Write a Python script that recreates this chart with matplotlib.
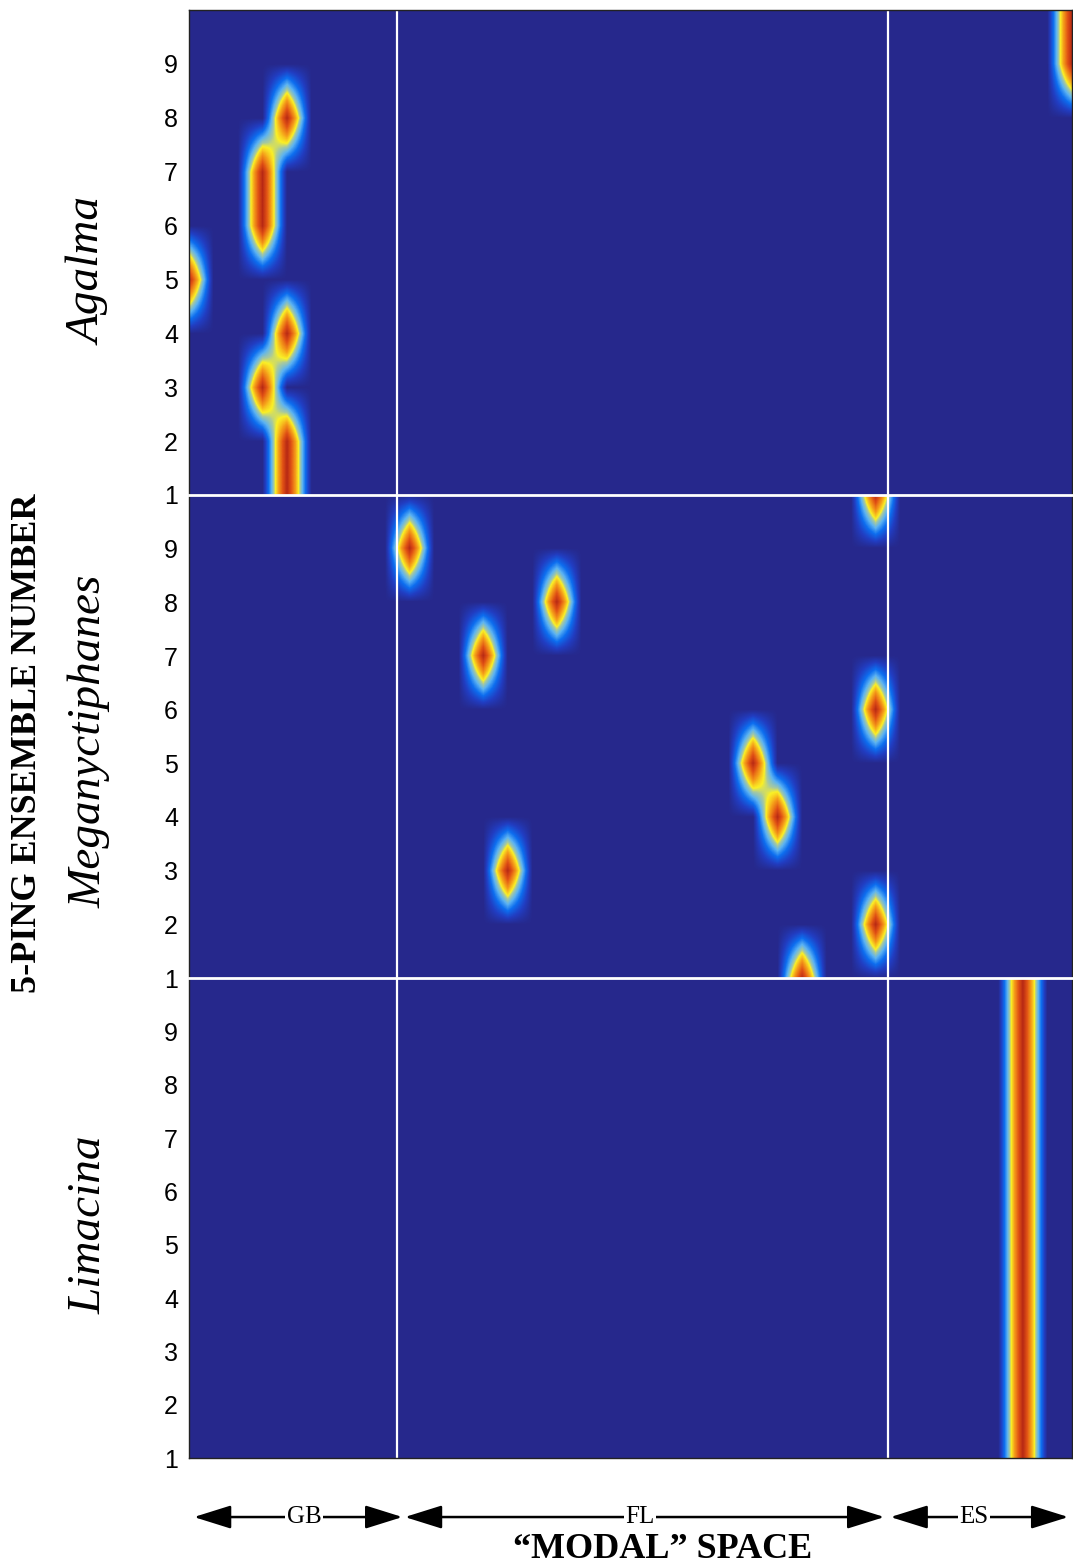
import numpy as np
import matplotlib
matplotlib.use('Agg')
import matplotlib.pyplot as plt
from matplotlib.colors import LinearSegmentedColormap
from matplotlib.patches import ArrowStyle

plt.rcParams['font.family'] = ['Liberation Sans', 'DejaVu Sans']

# mode index (0..36) of the peak for each 5-ping ensemble 1..10
pings = np.arange(1, 11)
n_modes = 37
agalma_mode = [4, 4, 3, 4, 0, 3, 3, 4, 36, 36]
megan_mode = [25, 28, 13, 24, 23, 28, 12, 15, 9, 28]
limacina_mode = [34, 34, 34, 34, 34, 34, 34, 34, 34, 34]
species = ['Agalma', 'Meganyctiphanes', 'Limacina']
modes = [agalma_mode, megan_mode, limacina_mode]

# regions of modal space
region_names = ['GB', 'FL', 'ES']
region_edges = [8.5, 28.5]

# arrow spans and label spots under the plot (in mode units)
arrow_spans = [(0.2, 8.7), (8.8, 28.35), (28.6, 35.85)]
label_x = [4.7, 18.4, 32.0]
species_y = [0.46, 0.49, 0.485]

serif = ['Liberation Serif', 'DejaVu Serif']

cmap = LinearSegmentedColormap.from_list('sonar', [
    (0.00, (0.15, 0.16, 0.55)),
    (0.12, (0.13, 0.24, 0.76)),
    (0.25, (0.05, 0.43, 0.94)),
    (0.37, (0.36, 0.70, 0.95)),
    (0.47, (0.66, 0.79, 0.62)),
    (0.53, (0.98, 0.94, 0.15)),
    (0.66, (0.96, 0.62, 0.10)),
    (0.83, (0.88, 0.32, 0.08)),
    (1.00, (0.72, 0.16, 0.08)),
])

H, Wpx = 1566, 1073
left = 189 / Wpx
width = (1072 - 189) / Wpx
tops = [10, 495, 978]
bots = [495, 978, 1458]

fig = plt.figure(figsize=(Wpx / 100, H / 100), dpi=100)
axes = []
for i in range(3):
    ax = fig.add_axes([left, 1 - bots[i] / H, width, (bots[i] - tops[i]) / H])
    grid = np.zeros((len(pings), n_modes))
    for r, m in enumerate(modes[i]):
        grid[r, m] = 1.0
    ax.imshow(grid, cmap=cmap, vmin=0, vmax=1, origin='lower', aspect='auto',
              interpolation='bilinear', interpolation_stage='data',
              extent=[-0.5, n_modes - 0.5, 0.5, 10.5])
    ax.set_xlim(0, 36)
    ax.set_ylim(1, 10)
    for e in region_edges:
        ax.axvline(e, color='white', lw=1.6)
    ax.set_xticks([])
    ax.set_yticks(range(1, 10))
    ax.tick_params(axis='y', length=0, pad=8, labelsize=18)
    for s in ax.spines.values():
        s.set_linewidth(1.0)
        s.set_color('#222222')
    if i > 0:
        ax.spines['top'].set_color('white')
        ax.spines['top'].set_linewidth(2)
        ax.spines['top'].set_zorder(5)
    ax.text(-0.113, species_y[i], species[i], transform=ax.transAxes,
            rotation=90, ha='center', va='center', fontsize=34,
            style='italic', family=serif)
    axes.append(ax)

fig.text(28 / Wpx, 1 - 743 / H, '5-PING ENSEMBLE NUMBER', rotation=90,
         ha='center', va='center', fontsize=26, fontweight='bold',
         family=serif)

ax3 = axes[2]
tr = ax3.get_xaxis_transform()
style = ArrowStyle('<|-|>', head_length=2.3, head_width=0.72)
for name, (a, b), lx in zip(region_names, arrow_spans, label_x):
    ax3.annotate('', xy=(a, -0.123), xytext=(b, -0.123),
                 xycoords=tr, textcoords=tr, annotation_clip=False,
                 arrowprops=dict(arrowstyle=style, mutation_scale=10,
                                 lw=1.8, color='black', shrinkA=0, shrinkB=0))
    ax3.text(lx, -0.123, name, transform=tr, ha='center', va='center',
             fontsize=18, family=serif,
             bbox=dict(facecolor='white', edgecolor='none', pad=1))

ax3.text(19.3, -0.19, '\u201cMODAL\u201d SPACE', transform=tr, ha='center',
         va='center', fontsize=26, fontweight='bold', family=serif)

fig.savefig('out.png', dpi=100)
